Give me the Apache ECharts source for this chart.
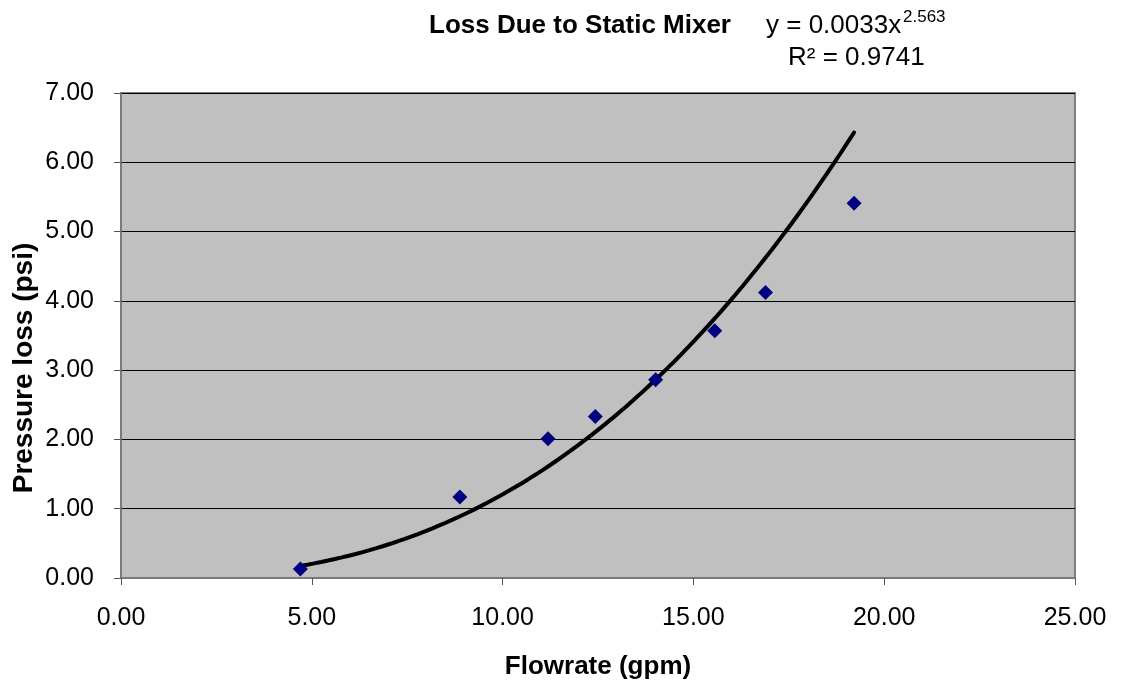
<!DOCTYPE html>
<html><head><meta charset="utf-8">
<script src="https://cdn.jsdelivr.net/npm/echarts@6/dist/echarts.min.js"></script>
<style>html,body{margin:0;padding:0;background:#fff}#c{width:1121px;height:689px}</style>
</head><body><div id="c"></div>
<script>
const flowrate = [4.70, 8.88, 11.19, 12.43, 14.01, 15.56, 16.89, 19.21];
const pressureLoss = [0.13, 1.17, 2.01, 2.33, 2.86, 3.57, 4.12, 5.41];
const trendCoef = 0.0033;
const trendExp = 2.563;
const trendR2 = 0.9741;
const titleText = 'Loss Due to Static Mixer';
const xName = 'Flowrate (gpm)';
const yName = 'Pressure loss (psi)';

const xmin = Math.min(...flowrate), xmax = Math.max(...flowrate);
const trend = [];
const N = 80;
for (let i = 0; i <= N; i++) {
  const x = xmin + (xmax - xmin) * i / N;
  trend.push([x, trendCoef * Math.pow(x, trendExp)]);
}
const pts = flowrate.map((x, i) => [x, pressureLoss[i]]);
const font = '"Liberation Sans", Arial, sans-serif';

const chart = echarts.init(document.getElementById('c'));
chart.setOption({
  animation: false,
  backgroundColor: '#ffffff',
  title: {
    text: titleText, left: 575, top: 8, textAlign: 'center',
    textStyle: { fontFamily: font, fontSize: 26, fontWeight: 'bold', color: '#000' }
  },
  grid: {
    left: 121, right: 46, top: 93, bottom: 111, outerBoundsMode: 'none', containLabel: false,
    show: true, backgroundColor: '#c0c0c0', borderColor: '#808080', borderWidth: 2
  },
  xAxis: {
    type: 'value', min: 0, max: 25, interval: 5,
    name: xName, nameLocation: 'middle', nameGap: 76,
    nameTextStyle: { fontFamily: font, fontSize: 26, fontWeight: 'bold', color: '#000' },
    axisLine: { show: true, onZero: false, lineStyle: { color: '#7a7a7a', width: 2 } },
    axisTick: { show: true, inside: false, length: 7, lineStyle: { color: '#555', width: 1 } },
    axisLabel: { formatter: v => v.toFixed(2), fontFamily: font, fontSize: 25, color: '#000', margin: 28 },
    splitLine: { show: false }
  },
  yAxis: {
    type: 'value', min: 0, max: 7, interval: 1,
    name: '',
    axisLine: { show: true, onZero: false, lineStyle: { color: '#7a7a7a', width: 2 } },
    axisTick: { show: true, inside: false, length: 7, lineStyle: { color: '#555', width: 1 } },
    axisLabel: { formatter: v => v.toFixed(2), fontFamily: font, fontSize: 25, color: '#000', margin: 27 },
    splitLine: { show: true, lineStyle: { color: '#000', width: 1 } }
  },
  series: [
    {
      type: 'line', data: trend, showSymbol: false, symbol: 'none', smooth: false,
      lineStyle: { color: '#000', width: 4, cap: 'round' }, z: 2, silent: true
    },
    {
      type: 'scatter', data: pts, symbol: 'diamond', symbolSize: 15,
      itemStyle: { color: '#000080', opacity: 1 }, z: 3
    }
  ],
  graphic: [
    { type: 'text', x: 24, y: 368, rotation: Math.PI / 2,
      style: { text: yName, font: 'bold 28px ' + font, fill: '#000', align: 'center', verticalAlign: 'middle' } },
    { type: 'text', left: 766, top: 13, style: { text: 'y = ' + trendCoef + 'x', font: '26px ' + font, fill: '#000' } },
    { type: 'text', left: 903, top: 9, style: { text: String(trendExp), font: '17px ' + font, fill: '#000' } },
    { type: 'text', left: 788, top: 45, style: { text: 'R² = ' + trendR2, font: '26px ' + font, fill: '#000' } }
  ]
});
</script></body></html>
